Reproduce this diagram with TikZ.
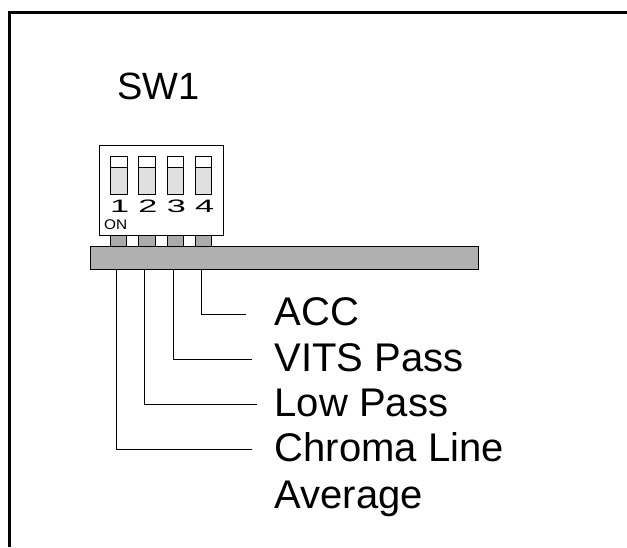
\documentclass[tikz,border=0pt]{standalone}
\usepackage{fontspec}
\setmainfont{Liberation Sans}
\tikzset{
  swpart/.style={draw, inner sep=0, line width=.8pt},
  footpad/.style={swpart, fill=black!33, minimum width=16.5pt, minimum height=11pt},
  biglabel/.style={anchor=base west, inner sep=0, font=\fontsize{40}{40}\selectfont},
  swnumber/.style={anchor=base, inner sep=0, xscale=1.9, font=\fontsize{18}{18}\selectfont},
  leader/.style={line width=.9pt},
}

\begin{document}
\begin{tikzpicture}[x=1pt, y=-1pt]
    \useasboundingbox (0,0) rectangle (627,547);
    \draw[line width=3pt] (9.5,547) -- (9.5,12.5) -- (627,12.5);
    \node[biglabel, font=\fontsize{38}{38}\selectfont] (title) at (117,99.5) {SW1};
    % switch body
    \node[swpart, fill=white, minimum width=124.5pt, minimum height=90.5pt] (swbody) at (161.3,190.3) {};
    \foreach \i in {1,2,3,4}{
        \pgfmathsetmacro{\xl}{110.4+28.33*(\i-1)}
        \draw[line width=.8pt, fill=black!12] (\xl,156) rectangle +(16.5,38.7);
        \draw[line width=.8pt, fill=white] (\xl,156) rectangle +(16.5,11.7);
        \node[swnumber] (num\i) at (\xl+9.2,212) {\i};
        \node[footpad] (foot\i) at (\xl+8.2,241) {};
    }
    \node[anchor=base west, inner sep=0, xscale=1.1, font=\fontsize{14}{14}\selectfont] (on) at (104,229.5) {ON};
    \node[swpart, fill=black!31, minimum width=388pt, minimum height=23pt] (bar) at (284,257.5) {};
    % leaders
    \foreach \i/\y/\e in {1/449.3/251.7, 2/404.3/257, 3/359/252, 4/314.3/246}{
        \coordinate (end\i) at (\e,\y);
        \draw[leader] ([xshift=-2pt]foot\i.center |- bar.south) |- (end\i);
    }
    \node[biglabel] (acc) at (274.5,325.5) {ACC};
    \node[biglabel] (vits) at (274.5,371) {VITS Pass};
    \node[biglabel] (low) at (274.5,416) {Low Pass};
    \node[biglabel] (chroma) at (274.5,461.5) {Chroma Line};
    \node[biglabel] (average) at (274.5,508) {Average};
\end{tikzpicture}
\end{document}
